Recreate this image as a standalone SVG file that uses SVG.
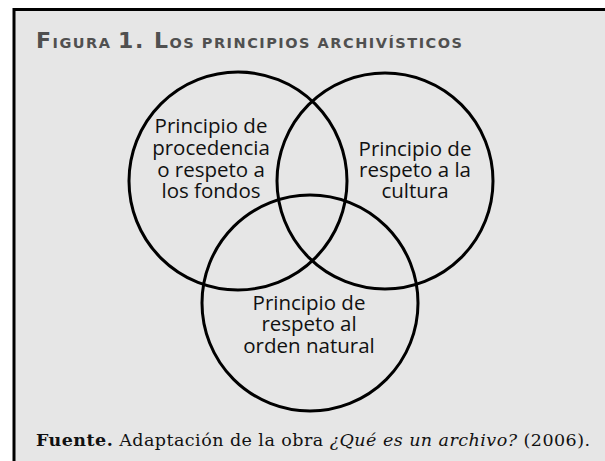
<svg xmlns="http://www.w3.org/2000/svg" width="605" height="461" viewBox="0 0 605 461">
<style>
.circ{fill:none;stroke:#000;stroke-width:3}
.lbl{font-family:"Open Sans","Noto Sans",sans-serif;font-size:20.5px;fill:#111;text-anchor:middle}
.title{font-family:"DejaVu Sans","Liberation Sans",sans-serif;font-weight:bold;fill:#505050}
.cap{font-family:"DejaVu Serif","Liberation Serif",serif;font-size:17.5px;fill:#111}
</style>
<rect x="0" y="0" width="605" height="461" fill="#fff"/>
<rect x="15" y="11" width="590" height="450" fill="#e6e6e6"/>
<path d="M14 461 V9.5 H605" fill="none" stroke="#000" stroke-width="3"/>
<text class="title" x="36" y="48" textLength="426" lengthAdjust="spacing"><tspan font-size="22">F</tspan><tspan font-size="14.5">IGURA </tspan><tspan font-size="22">1. L</tspan><tspan font-size="14.5">OS PRINCIPIOS ARCHIVÍSTICOS</tspan></text>
<g id="connectors"></g>
<g id="node-procedencia">
<circle class="circ" cx="238" cy="181" r="109"/>
<text class="lbl" x="211" y="133">Principio de</text>
<text class="lbl" x="211" y="155">procedencia</text>
<text class="lbl" x="211" y="177">o respeto a</text>
<text class="lbl" x="211" y="198">los fondos</text>
</g>
<g id="node-cultura">
<circle class="circ" cx="385" cy="181" r="108"/>
<text class="lbl" x="415" y="156">Principio de</text>
<text class="lbl" x="415" y="177">respeto a la</text>
<text class="lbl" x="415" y="198">cultura</text>
</g>
<g id="node-orden">
<circle class="circ" cx="310" cy="303" r="108"/>
<text class="lbl" x="309" y="310">Principio de</text>
<text class="lbl" x="309" y="331">respeto al</text>
<text class="lbl" x="309" y="353">orden natural</text>
</g>
<text class="cap" x="36" y="446" textLength="554" lengthAdjust="spacing"><tspan font-weight="bold">Fuente.</tspan> Adaptación de la obra <tspan font-style="italic">¿Qué es un archivo?</tspan> (2006).</text>
</svg>
